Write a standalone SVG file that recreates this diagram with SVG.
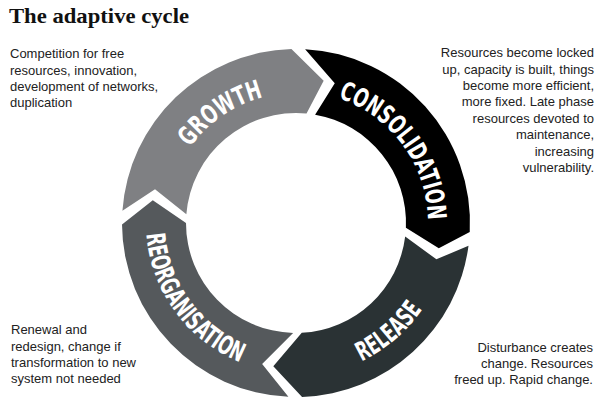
<svg xmlns="http://www.w3.org/2000/svg" width="606" height="408" viewBox="0 0 606 408">
<style>
.title{font-family:"Liberation Serif","DejaVu Serif",serif;font-weight:bold;font-size:22px;fill:#111}
.note{font-family:"Liberation Sans","DejaVu Sans",sans-serif;font-size:13px;fill:#222}
.r{text-anchor:end}
.lbl{font-family:"Liberation Sans Narrow","DejaVu Sans Condensed","Roboto Condensed",sans-serif;font-stretch:condensed;font-weight:bold;font-size:26px;fill:#fff}
</style>
<defs>
<path id="pGrowth" d="M190.3,147.3 A130,130 0 0 1 263.2,97.2"/>
<path id="pCons" d="M338.3,98.0 A132,132 0 0 1 428.0,220.0"/>
<path id="pRel" d="M361.4,361.3 A153,153 0 0 0 422.7,308.8"/>
<path id="pReorg" d="M146.4,234.0 A150,150 0 0 0 240.5,362.4"/>
</defs>
<rect width="606" height="408" fill="#fff"/>
<text class="title" x="9" y="23" textLength="180" lengthAdjust="spacingAndGlyphs">The adaptive cycle</text>

<g id="growth">
<path d="M122.42,210.86 A174,174 0 0 1 291.44,49.06 L323.67,80.66 L306.54,113.51 A110,110 0 0 0 186.34,214.37 L155.01,189.15 Z" fill="#7f8083"/>
<text class="lbl"><textPath href="#pGrowth" textLength="90" lengthAdjust="spacingAndGlyphs">GROWTH</textPath></text>
</g>
<g id="consolidation">
<path d="M305.11,49.24 A174,174 0 0 1 469.76,232.11 L438.80,248.18 L405.90,227.80 A110,110 0 0 0 315.10,114.67 L334.75,83.27 Z" fill="#000"/>
<text class="lbl"><textPath href="#pCons" textLength="161" lengthAdjust="spacingAndGlyphs">CONSOLIDATION</textPath></text>
</g>
<g id="release">
<path d="M468.51,245.71 A174,174 0 0 1 302.07,396.89 L273.32,366.21 L301.76,332.85 A110,110 0 0 0 405.18,236.41 L436.38,259.31 Z" fill="#2a3234"/>
<text class="lbl"><textPath href="#pRel" textLength="81" lengthAdjust="spacingAndGlyphs">RELEASE</textPath></text>
</g>
<g id="reorganisation">
<path d="M288.41,396.83 A174,174 0 0 1 122.01,224.52 L152.79,200.32 L186,223 A110,110 0 0 0 293.12,332.96 L262.15,363.99 Z" fill="#55595c"/>
<text class="lbl"><textPath href="#pReorg" textLength="167" lengthAdjust="spacingAndGlyphs">REORGANISATION</textPath></text>
</g>
<g id="connectors"/>

<g id="note-growth" class="note">
<text x="10" y="58">Competition for free</text>
<text x="10" y="74.5">resources, innovation,</text>
<text x="10" y="91">development of networks,</text>
<text x="10" y="107">duplication</text>
</g>
<g id="note-consolidation" class="note r">
<text x="594" y="57">Resources become locked</text>
<text x="594" y="73.5">up, capacity is built, things</text>
<text x="594" y="90">become more efficient,</text>
<text x="594" y="106">more fixed. Late phase</text>
<text x="594" y="122.5">resources devoted to</text>
<text x="594" y="139">maintenance,</text>
<text x="594" y="155.5">increasing</text>
<text x="594" y="171.5">vulnerability.</text>
</g>
<g id="note-reorganisation" class="note">
<text x="11" y="334">Renewal and</text>
<text x="11" y="350.5">redesign, change if</text>
<text x="11" y="366.5">transformation to new</text>
<text x="11" y="382.5">system not needed</text>
</g>
<g id="note-release" class="note r">
<text x="593" y="352">Disturbance creates</text>
<text x="593" y="368">change. Resources</text>
<text x="593" y="384">freed up. Rapid change.</text>
</g>
</svg>
